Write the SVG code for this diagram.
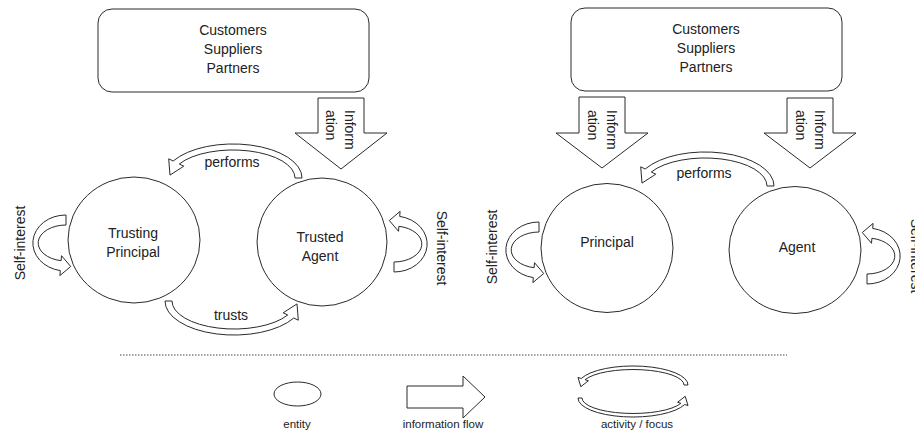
<svg xmlns="http://www.w3.org/2000/svg" width="915" height="438" viewBox="0 0 915 438">
<style>
.ln{fill:#fff;stroke:#2a2a2a;stroke-width:1}
.t{font-family:"Liberation Sans",Arial,sans-serif;font-size:14px;fill:#222}
.s{font-family:"Liberation Sans",Arial,sans-serif;font-size:11.5px;fill:#222}
.c{text-anchor:middle}
.arr{fill:#fff;stroke:#2a2a2a;stroke-width:1;vector-effect:non-scaling-stroke}
</style>
<defs>
<path id="ca" d="M69,0 A69,34 0 0 0 -59.8,-17 L-64.3,-19.2 L-63,-2.9 L-49.2,-11.8 L-53.7,-14 A62,28 0 0 1 62,0 Z"/>
<path id="cs" d="M28,0 A28,33 0 0 0 -27.6,-5.7 L-32.6,-6.1 L-23.5,4.7 L-12.7,-4.5 L-17.7,-4.9 A18,28 0 0 1 18,0 Z"/>
<path id="cl" d="M55,0 A55,19 0 0 0 -51.7,-6.5 L-55,-7.55 L-52.2,1.7 L-44.6,-4.25 L-47.9,-5.3 A51,15.5 0 0 1 51,0 Z"/>
</defs>

<g id="stakeholders-left">
<rect class="ln" x="98" y="9" width="271" height="83" rx="14"/>
<text class="t c" x="233" y="35">Customers</text>
<text class="t c" x="233" y="54">Suppliers</text>
<text class="t c" x="233" y="73">Partners</text>
</g>
<g id="stakeholders-right">
<rect class="ln" x="571" y="8" width="271" height="83" rx="14"/>
<text class="t c" x="706" y="34">Customers</text>
<text class="t c" x="706" y="53">Suppliers</text>
<text class="t c" x="706" y="72">Partners</text>
</g>

<g id="trusting-principal">
<ellipse class="ln" cx="134" cy="240" rx="66" ry="63"/>
<text class="t c" x="133" y="238">Trusting</text>
<text class="t c" x="133" y="257">Principal</text>
</g>
<g id="trusted-agent">
<ellipse class="ln" cx="322" cy="242" rx="65" ry="64"/>
<text class="t c" x="320" y="242">Trusted</text>
<text class="t c" x="320" y="261">Agent</text>
</g>
<g id="principal">
<ellipse class="ln" cx="607" cy="248" rx="66" ry="64.5"/>
<text class="t c" x="607" y="247">Principal</text>
</g>
<g id="agent">
<ellipse class="ln" cx="795" cy="250" rx="66" ry="63.5"/>
<text class="t c" x="797" y="252">Agent</text>
</g>

<g id="connectors">
<path class="ln" d="M318,98 H364 V133 H387 L341,169 L295,133 H318 Z"/>
<text class="t" transform="translate(345,110) rotate(90)">Inform</text>
<text class="t" transform="translate(326,110) rotate(90)">ation</text>
<path class="ln" d="M579,97 H625 V133 H648 L602,168 L556,133 H579 Z"/>
<text class="t" transform="translate(607,110) rotate(90)">Inform</text>
<text class="t" transform="translate(588,110) rotate(90)">ation</text>
<path class="ln" d="M787,98 H833 V133 H856 L810,168 L764,133 H787 Z"/>
<text class="t" transform="translate(815,110) rotate(90)">Inform</text>
<text class="t" transform="translate(796,110) rotate(90)">ation</text>

<use href="#ca" class="arr" transform="translate(233,178)"/>
<text class="t c" x="232" y="167">performs</text>
<use href="#ca" class="arr" transform="translate(705,186)"/>
<text class="t c" x="704" y="178">performs</text>
<use href="#ca" class="arr" transform="translate(234,301) rotate(180)"/>
<text class="t c" x="231" y="320">trusts</text>

<use href="#cs" class="arr" transform="translate(66,243) rotate(-90)"/>
<text class="t c" transform="translate(25,243) rotate(-90)">Self-interest</text>
<use href="#cs" class="arr" transform="translate(394,244) rotate(90)"/>
<text class="t c" transform="translate(437,248) rotate(90)">Self-interest</text>
<use href="#cs" class="arr" transform="translate(539,250) rotate(-90)"/>
<text class="t c" transform="translate(497,247) rotate(-90)">Self-interest</text>
<use href="#cs" class="arr" transform="translate(867,256) rotate(90)"/>
<text class="t c" transform="translate(911,256) rotate(90)">Self-interest</text>
</g>

<line x1="120" y1="355" x2="787" y2="355" stroke="#444" stroke-width="1" stroke-dasharray="1.5,1.5"/>

<g id="legend-entity">
<ellipse class="ln" cx="297.5" cy="394" rx="23.5" ry="12"/>
<text class="s c" x="297" y="428">entity</text>
</g>
<g id="legend-flow">
<path class="ln" d="M407,386 H463 V376 L485,397 L463,418 V408 H407 Z"/>
<text class="s c" x="443" y="428">information flow</text>
</g>
<g id="legend-activity">
<use href="#cl" class="arr" transform="translate(633,385)"/>
<use href="#cl" class="arr" transform="translate(633,398) rotate(180)"/>
<text class="s c" x="637" y="428">activity / focus</text>
</g>
</svg>
